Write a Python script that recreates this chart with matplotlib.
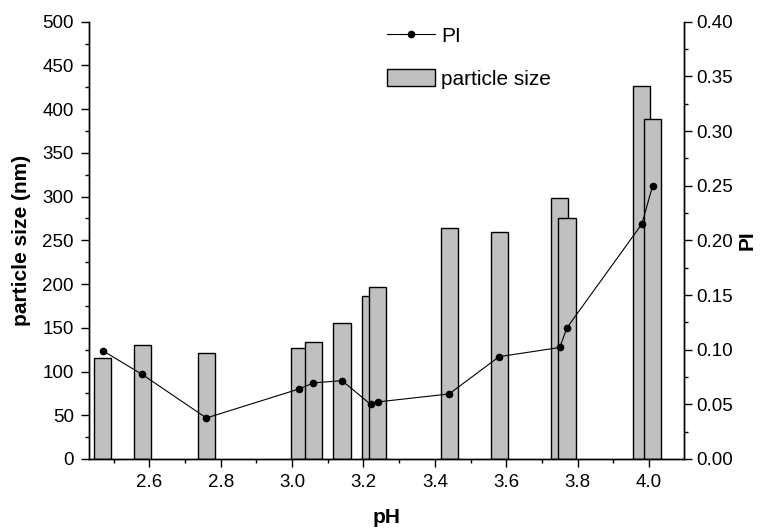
import matplotlib

matplotlib.use("Agg")
import matplotlib.pyplot as plt
from matplotlib.patches import Patch
from matplotlib.lines import Line2D
from matplotlib.ticker import MultipleLocator, FormatStrFormatter

plt.rcParams["font.family"] = ["Liberation Sans", "DejaVu Sans"]

# measured pH values, mean particle size and polydispersity index
ph = [2.47, 2.58, 2.76, 3.02, 3.06, 3.14, 3.22, 3.24, 3.44, 3.58, 3.75, 3.77, 3.98, 4.01]
particle_size = [115, 130, 121, 127, 134, 155, 186, 197, 264, 259.5, 299, 275.5, 426, 389]
pi_values = [0.099, 0.0774, 0.0375, 0.0641, 0.0696, 0.0717, 0.050, 0.0522,
             0.0595, 0.0936, 0.102, 0.120, 0.215, 0.250]

bar_color = "#c0c0c0"
tick_size = 13.5
label_size = 15

fig = plt.figure(figsize=(7.63, 5.31), dpi=100)
ax = fig.add_axes([0.117, 0.1356, 0.7795, 0.8235])
ax2 = ax.twinx()

ax.bar(ph, particle_size, width=0.048, color=bar_color, edgecolor="black",
       linewidth=1.0, zorder=2)
ax2.plot(ph, pi_values, color="black", linewidth=0.8, marker="o",
         markersize=4.5, zorder=3)

ax.set_xlim(2.432, 4.098)
ax.set_ylim(0, 500)
ax2.set_ylim(0, 0.40)

ax.xaxis.set_major_locator(MultipleLocator(0.2))
ax.xaxis.set_minor_locator(MultipleLocator(0.1))
ax.xaxis.set_major_formatter(FormatStrFormatter("%.1f"))
ax.yaxis.set_major_locator(MultipleLocator(50))
ax.yaxis.set_minor_locator(MultipleLocator(25))
ax2.yaxis.set_major_locator(MultipleLocator(0.05))
ax2.yaxis.set_minor_locator(MultipleLocator(0.025))
ax2.yaxis.set_major_formatter(FormatStrFormatter("%.2f"))

for a in (ax, ax2):
    a.spines["top"].set_visible(False)
    for s in a.spines.values():
        s.set_linewidth(1.0)
    a.tick_params(which="major", direction="out", length=6, width=1.0,
                  labelsize=tick_size, pad=5)
    a.tick_params(which="minor", direction="out", length=3, width=1.0)
ax2.tick_params(which="major", pad=3)

ax.set_xlabel("pH", fontsize=label_size, fontweight="bold", labelpad=12)
ax.set_ylabel("particle size (nm)", fontsize=label_size, fontweight="bold",
              labelpad=8)
ax2.set_ylabel("PI", fontsize=label_size, fontweight="bold", labelpad=3)

handles = [
    Line2D([], [], color="black", linewidth=0.8, marker="o", markersize=4.5),
    Patch(facecolor=bar_color, edgecolor="black", linewidth=1.0),
]
ax2.legend(handles, ["PI", "particle size"], loc="upper left",
           bbox_to_anchor=(0.5068, 0.951), bbox_transform=fig.transFigure,
           frameon=False, fontsize=15, borderpad=0, borderaxespad=0,
           handlelength=2.3, handletextpad=0.32, handleheight=0.85,
           labelspacing=1.15)

fig.savefig("out.png", dpi=100)
